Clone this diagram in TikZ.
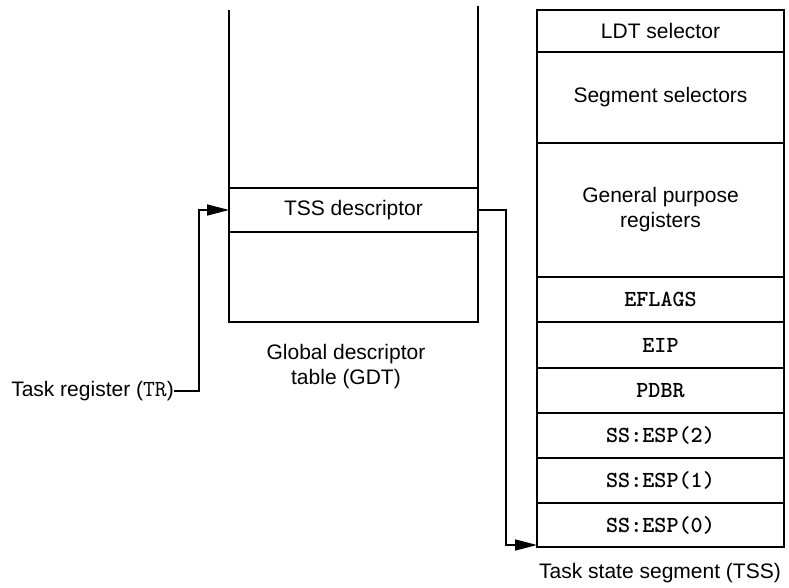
\documentclass[tikz,border=0pt]{standalone}
\usepackage{fontspec}
\setmainfont{Liberation Sans}
\usetikzlibrary{arrows.meta,calc}
\begin{document}
\begin{tikzpicture}[x=1pt,y=-1pt,
  frame/.style={line width=1.8pt},
  cell/.style={draw, line width=1.8pt, inner sep=0pt, outer sep=0pt,
    minimum width=247pt, align=center, font=\fontsize{21}{25}\selectfont},
  mcell/.style={cell, font=\fontsize{23}{27}\selectfont\ttfamily\bfseries},
  lbl/.style={inner sep=0pt, align=center, font=\fontsize{21}{25}\selectfont},
  conn/.style={line width=1.5pt},
  arr/.style={conn, -{Triangle[length=22pt,width=11pt]}}
]
\useasboundingbox (0,0) rectangle (789,588);

% Global descriptor table
\node[cell, minimum width=249pt, minimum height=44pt] (tssd) at (353.5,210) {TSS descriptor};
\node[cell, minimum width=249pt, minimum height=90pt] (gdtlow) at (353.5,277) {};
\draw[frame] (tssd.north west) -- (229,10);
\draw[frame] (tssd.north east) -- (478,6);
\node[lbl] (gdtl) at (346,367) {Global descriptor\\table (GDT)};

% Task state segment
\node[cell, minimum height=42pt] (ldt) at (660.5,31) {LDT selector};
\node[cell, minimum height=91pt] (seg) at (660.5,97.5) {Segment selectors};
\node[cell, minimum height=134pt] (gpr) at (660.5,210) {General purpose\\registers};
\node[mcell, minimum height=45pt] (efl) at (660.5,299.5) {EFLAGS};
\node[mcell, minimum height=46pt] (eip) at (660.5,345) {EIP};
\node[mcell, minimum height=45pt] (pdbr) at (660.5,390.5) {PDBR};
\node[mcell, minimum height=45pt] (esp2) at (660.5,435.5) {SS:ESP(2)};
\node[mcell, minimum height=45pt] (esp1) at (660.5,480.5) {SS:ESP(1)};
\node[mcell, minimum height=44pt] (esp0) at (660.5,525) {SS:ESP(0)};
\node[lbl] (tssl) at (660,573) {Task state segment (TSS)};

% Task register
\node[lbl, anchor=east] (tr) at (174,391) {Task register ({\fontsize{23}{27}\selectfont\ttfamily TR})};
\coordinate (trc) at (199,391);
\draw[arr] (tr.east) -- (trc) |- (tssd.west);

% TSS descriptor to TSS
\draw[arr] (tssd.east) -- ++(28,0) |- ($(esp0.south west)+(0,-2)$);
\end{tikzpicture}
\end{document}
